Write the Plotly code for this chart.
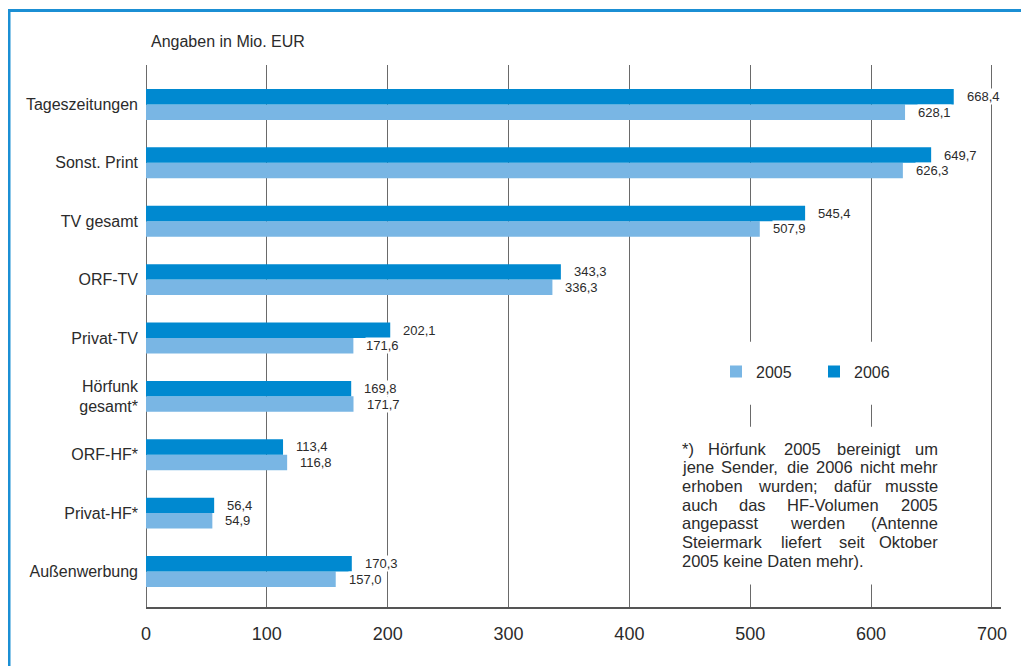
import plotly.graph_objects as go

# ---------------- data ----------------
categories = ["Tageszeitungen", "Sonst. Print", "TV gesamt", "ORF-TV", "Privat-TV",
              "Hörfunk<br>gesamt*", "ORF-HF*", "Privat-HF*", "Außenwerbung"]
values_2005 = [628.1, 626.3, 507.9, 336.3, 171.6, 171.7, 116.8, 54.9, 157.0]
values_2006 = [668.4, 649.7, 545.4, 343.3, 202.1, 169.8, 113.4, 56.4, 170.3]
series_names = ["2005", "2006"]
x_ticks = [0, 100, 200, 300, 400, 500, 600, 700]
unit_title = "Angaben in Mio. EUR"
footnote_lines = [
    "*) Hörfunk 2005 bereinigt um",
    "jene Sender, die 2006 nicht mehr",
    "erhoben wurden; dafür musste",
    "auch das HF-Volumen 2005",
    "angepasst werden (Antenne",
    "Steiermark liefert seit Oktober",
    "2005 keine Daten mehr).",
]

# ---------------- style ----------------
OFF = 8  # page body margin offset
W, H = 1029 - OFF, 666 - OFF
PLOT_L, PLOT_R, PLOT_T, PLOT_B = 146, 1001, 65, 607.5   # page coordinates
L, R, T, B = PLOT_L - OFF, 1029 - PLOT_R, PLOT_T - OFF, 666 - PLOT_B
PW, PH = PLOT_R - PLOT_L, PLOT_B - PLOT_T
C_LIGHT = "#79b6e4"
C_DARK = "#0089d0"
C_FRAME = "#1b8fd4"
C_TEXT = "#2b2b2b"
C_GRID = "#6a6a6a"
FONT = "Liberation Sans, Arial, sans-serif"


def px_x(p):
    return (p - PLOT_L) / PW


def px_y(p):
    return (PLOT_B - p) / PH


def fmt(v):
    return f"{v:.1f}".replace(".", ",")


fig = go.Figure()
fig.add_trace(go.Bar(name=series_names[0], y=categories, x=values_2005, orientation="h",
                     marker=dict(color=C_LIGHT, line=dict(width=0))))
fig.add_trace(go.Bar(name=series_names[1], y=categories, x=values_2006, orientation="h",
                     marker=dict(color=C_DARK, line=dict(width=0))))

annotations = []
# value labels
for cat, v5, v6 in zip(categories, values_2005, values_2006):
    for v, ys in ((v6, 7.75), (v5, -7.75)):
        annotations.append(dict(x=v, y=cat, xref="x", yref="y", text=fmt(v),
                                showarrow=False, xanchor="left", yanchor="middle",
                                xshift=12, yshift=ys, bgcolor="white", borderpad=0,
                                font=dict(family=FONT, size=13, color=C_TEXT)))

# title
annotations.append(dict(x=px_x(149), y=px_y(41), xref="paper", yref="paper", text=unit_title,
                        showarrow=False, xanchor="left", yanchor="middle",
                        font=dict(family=FONT, size=16, color=C_TEXT)))

# footnote (justified approximately)
FN_SIZE = 16.5
FN_X0, FN_X1 = 680, 940
FN_Y0, FN_DY = 449, 18.7


def char_w(c):
    if c in "ijl":
        return 0.24
    if c in "ft ,.;:()!*'|":
        return 0.29
    if c == "r":
        return 0.34
    if c in "mwMW":
        return 0.85
    if c.isupper():
        return 0.68
    return 0.56


def word_w(w):
    return sum(char_w(c) for c in w) * FN_SIZE


for i, line in enumerate(footnote_lines):
    yy = px_y(FN_Y0 + i * FN_DY)
    if i == len(footnote_lines) - 1:
        annotations.append(dict(x=px_x(FN_X0), y=yy, xref="paper", yref="paper", text=line,
                                showarrow=False, xanchor="left", yanchor="middle",
                                font=dict(family=FONT, size=FN_SIZE, color=C_TEXT)))
        continue
    words = line.split(" ")
    widths = [word_w(w) for w in words]
    gap = (FN_X1 - FN_X0 - sum(widths)) / (len(words) - 1)
    pos = FN_X0
    for j, (w, ww) in enumerate(zip(words, widths)):
        last = j == len(words) - 1
        annotations.append(dict(x=px_x(FN_X1 if last else pos), y=yy, xref="paper", yref="paper",
                                text=w, showarrow=False,
                                xanchor="right" if last else "left", yanchor="middle",
                                font=dict(family=FONT, size=FN_SIZE, color=C_TEXT)))
        pos += ww + gap

shapes = [
    # white boxes masking gridlines behind legend and footnote
    dict(type="rect", xref="paper", yref="paper", x0=px_x(700), x1=px_x(945),
         y0=px_y(405), y1=px_y(342), fillcolor="white", line=dict(width=0), layer="above"),
    dict(type="rect", xref="paper", yref="paper", x0=px_x(672), x1=px_x(948),
         y0=px_y(585), y1=px_y(427), fillcolor="white", line=dict(width=0), layer="above"),
    # blue frame
    dict(type="line", xref="paper", yref="paper", x0=px_x(9), x1=px_x(9),
         y0=px_y(9), y1=px_y(700), line=dict(color=C_FRAME, width=3)),
    dict(type="line", xref="paper", yref="paper", x0=px_x(7.5), x1=px_x(1060),
         y0=px_y(10.5), y1=px_y(10.5), line=dict(color=C_FRAME, width=3)),
]

fig.update_layout(
    width=W, height=H,
    margin=dict(l=L, r=R, t=T, b=B, pad=0),
    paper_bgcolor="white", plot_bgcolor="white",
    barmode="group", bargap=0.47, bargroupgap=0,
    font=dict(family=FONT, color=C_TEXT),
    showlegend=True,
    legend=dict(orientation="h", x=px_x(716), xanchor="left", y=px_y(372), yanchor="middle",
                bgcolor="rgba(0,0,0,0)", font=dict(family=FONT, size=16, color=C_TEXT),
                entrywidth=53, entrywidthmode="pixels", traceorder="normal",
                itemclick=False, itemdoubleclick=False),
    xaxis=dict(range=[0, 707.5], tickvals=x_ticks, ticktext=[str(t) for t in x_ticks],
               showgrid=True, gridcolor=C_GRID, gridwidth=1,
               zeroline=True, zerolinecolor=C_GRID, zerolinewidth=1,
               showline=True, linecolor="#555555", linewidth=2,
               ticks="", ticklabelstandoff=9,
               tickfont=dict(family=FONT, size=18, color=C_TEXT), fixedrange=True),
    yaxis=dict(categoryorder="array", categoryarray=categories[::-1],
               range=[-0.608, 8.676], showgrid=False, zeroline=False, showline=False,
               ticks="", ticklabelstandoff=7,
               tickfont=dict(family=FONT, size=16, color=C_TEXT), fixedrange=True),
    annotations=annotations,
    shapes=shapes,
)

fig.write_html("out.html")
